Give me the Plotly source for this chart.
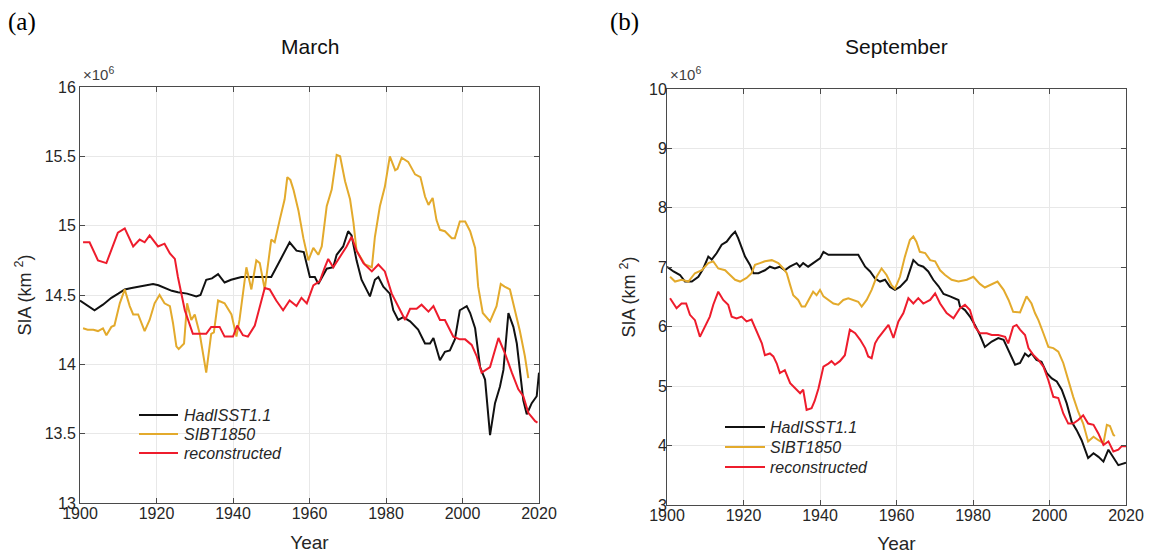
import plotly.graph_objects as go

# ---------------- data (SIA, units of 10^6 km^2) ----------------
mar_had_years = [1900, 1901.5, 1903.8, 1906, 1908.2, 1910, 1911.7, 1913.5, 1915.2, 1917, 1919.1, 1920.5,
                 1922.1, 1924, 1925.6, 1928, 1930.4, 1931.5, 1933, 1934.5, 1936.1, 1937.8, 1939.5, 1942.2,
                 1946, 1950, 1952.5, 1954.8, 1956.6, 1958.5, 1960.1, 1961.4, 1962.3, 1964.5, 1966.2, 1967.1,
                 1968.8, 1970.1, 1971, 1972.3, 1973.6, 1975.8, 1977.1, 1978, 1979.3, 1981, 1981.9, 1983.2,
                 1984.5, 1986.3, 1988.4, 1990.2, 1991.5, 1992.4, 1994.1, 1995.4, 1996.7, 1998, 1999.3, 2001.1,
                 2002, 2003.3, 2004.6, 2005.9, 2007.2, 2008.5, 2009.8, 2010.7, 2012, 2013.3, 2014.2, 2015.9,
                 2016.8, 2018.1, 2019.4, 2020]
mar_had = [14.46, 14.43, 14.39, 14.43, 14.48, 14.51, 14.54, 14.55, 14.56, 14.57, 14.58, 14.57,
           14.55, 14.53, 14.52, 14.51, 14.49, 14.50, 14.61, 14.62, 14.65, 14.59, 14.61, 14.63,
           14.63, 14.63, 14.76, 14.88, 14.82, 14.81, 14.63, 14.63, 14.58, 14.69, 14.70, 14.79,
           14.85, 14.96, 14.93, 14.75, 14.61, 14.49, 14.61, 14.63, 14.56, 14.51, 14.39, 14.32,
           14.34, 14.31, 14.25, 14.15, 14.15, 14.19, 14.03, 14.09, 14.10, 14.18, 14.39, 14.42,
           14.37, 14.26, 13.98, 13.89, 13.49, 13.72, 13.84, 13.96, 14.37, 14.27, 14.15, 13.74,
           13.64, 13.72, 13.77, 13.94]

mar_sibt_years = [1900.8, 1902, 1903.5, 1904.7, 1906, 1906.9, 1908.2, 1909, 1910.4, 1911.7, 1913, 1913.9,
                  1915.2, 1916.9, 1918.2, 1919.5, 1920.8, 1922.1, 1923.5, 1924.3, 1925.2, 1925.8, 1927.2,
                  1928, 1929.1, 1930, 1931.3, 1933, 1934.3, 1935, 1936.1, 1937.8, 1939.6, 1940.9, 1941.7,
                  1942.6, 1943.5, 1944.8, 1946.1, 1947, 1948.3, 1950, 1950.9, 1952.2, 1953.5, 1954.2, 1955,
                  1955.8, 1957.1, 1958.4, 1959.7, 1961, 1962.3, 1963.2, 1964.5, 1965.8, 1967.1, 1968,
                  1969.3, 1970.6, 1971.5, 1972.3, 1974.5, 1976.3, 1977.1, 1978.4, 1979.7, 1981, 1982.4,
                  1983, 1984.1, 1985.8, 1987.6, 1989, 1990.2, 1991.1, 1992.2, 1993.2, 1994.1, 1995.4,
                  1997.2, 1998, 1999.3, 2000.7, 2002, 2003.3, 2004.1, 2005.3, 2007.2, 2008.9, 2010, 2011,
                  2012.4, 2013.7, 2015, 2016.3, 2017.2]
mar_sibt = [14.26, 14.25, 14.25, 14.24, 14.26, 14.21, 14.27, 14.28, 14.44, 14.54, 14.42, 14.36,
            14.36, 14.24, 14.32, 14.44, 14.50, 14.44, 14.42, 14.30, 14.13, 14.11, 14.15,
            14.44, 14.32, 14.36, 14.22, 13.94, 14.22, 14.23, 14.46, 14.44, 14.36, 14.20, 14.32,
            14.51, 14.70, 14.54, 14.75, 14.73, 14.54, 14.90, 14.88, 15.04, 15.19, 15.35, 15.33,
            15.26, 15.11, 14.91, 14.75, 14.84, 14.79, 14.85, 15.14, 15.26, 15.51, 15.50,
            15.32, 15.19, 15.02, 14.82, 14.72, 14.70, 14.92, 15.14, 15.28, 15.50, 15.40,
            15.41, 15.49, 15.46, 15.37, 15.35, 15.21, 15.15, 15.20, 15.04, 14.97, 14.96,
            14.91, 14.91, 15.03, 15.03, 14.96, 14.84, 14.56, 14.37, 14.31, 14.42, 14.58, 14.56,
            14.54, 14.39, 14.24, 14.06, 13.90]

mar_rec_years = [1900.8, 1902.5, 1904.7, 1906.9, 1909.9, 1911.7, 1913.9, 1915.6, 1916.9, 1918.2, 1920.4,
                 1922.1, 1923.5, 1924.8, 1925.6, 1927.4, 1929.5, 1933, 1934.3, 1936.5, 1937.8, 1940,
                 1941.1, 1942.6, 1943.9, 1945.7, 1948.3, 1949.6, 1951.3, 1953.1, 1954.8, 1956.6, 1957.9,
                 1959.3, 1961, 1962.7, 1964, 1964.9, 1966.2, 1968, 1969.7, 1971, 1972.3, 1974.1, 1976.3,
                 1978, 1979.7, 1981.5, 1983.2, 1985, 1986.3, 1988, 1989.3, 1991.1, 1992.4, 1994.1,
                 1995.4, 1997.6, 1999.3, 2000.7, 2002.4, 2003.7, 2005, 2007.2, 2009.4, 2011.1, 2012.9,
                 2014.6, 2015.9, 2017.2, 2019, 2019.6]
mar_rec = [14.88, 14.88, 14.75, 14.73, 14.95, 14.98, 14.85, 14.90, 14.88, 14.93, 14.85,
           14.87, 14.80, 14.76, 14.63, 14.39, 14.22, 14.22, 14.27, 14.27, 14.20, 14.20,
           14.28, 14.21, 14.20, 14.28, 14.55, 14.54, 14.46, 14.39, 14.46, 14.42, 14.48,
           14.44, 14.57, 14.60, 14.70, 14.76, 14.70, 14.78, 14.85, 14.92, 14.82, 14.73, 14.67,
           14.72, 14.67, 14.51, 14.42, 14.32, 14.40, 14.40, 14.43, 14.38, 14.42, 14.32,
           14.32, 14.20, 14.18, 14.18, 14.14, 14.06, 13.94, 13.98, 14.19, 14.08, 13.94,
           13.82, 13.77, 13.65, 13.59, 13.58]

sep_had_years = [1900, 1901.7, 1903.4, 1904.7, 1906.5, 1908.2, 1909.5, 1910.8, 1911.7, 1913, 1914.3, 1915.6,
                 1916.9, 1917.8, 1918.6, 1920.4, 1921.7, 1922.6, 1923.9, 1925.6, 1926.9, 1928.2, 1929.5,
                 1930.8, 1932.1, 1933.9, 1934.7, 1935.6, 1936.9, 1938.2, 1940, 1940.9, 1942.2, 1944, 1950,
                 1951.8, 1953.1, 1954.4, 1955.7, 1957, 1958.3, 1959.6, 1960.9, 1962.7, 1964.4, 1965.7, 1967,
                 1968.3, 1969.6, 1971, 1972.3, 1974, 1976.2, 1976.6, 1977.9, 1979.2, 1980.5, 1981.8,
                 1983.1, 1984.9, 1986.6, 1988, 1989.3, 1991, 1992.3, 1993.6, 1994.5, 1995.3, 1996.6,
                 1997.9, 1999.3, 2000.6, 2001.9, 2003.2, 2004.5, 2005.8, 2007.1, 2008.4, 2010.1, 2011.5,
                 2012.8, 2014.1, 2015.4, 2016.7, 2018, 2020]
sep_had = [7.01, 6.93, 6.87, 6.76, 6.76, 6.84, 6.98, 7.18, 7.13, 7.24, 7.38, 7.43,
           7.54, 7.60, 7.49, 7.18, 7.04, 6.90, 6.90, 6.95, 7.01, 6.98, 7.01,
           6.95, 7.01, 7.07, 7.01, 7.07, 7.01, 7.07, 7.15, 7.26, 7.21, 7.21, 7.21,
           7.01, 6.93, 6.81, 6.76, 6.79, 6.67, 6.62, 6.67, 6.79, 7.12, 7.04, 7.01,
           6.93, 6.79, 6.68, 6.55, 6.51, 6.45, 6.34, 6.28, 6.17, 6.03, 5.86,
           5.66, 5.75, 5.81, 5.78, 5.61, 5.36, 5.39, 5.55, 5.50, 5.55, 5.44,
           5.41, 5.22, 5.13, 5.08, 4.94, 4.71, 4.40, 4.26, 4.09, 3.79, 3.87,
           3.81, 3.73, 3.93, 3.81, 3.67, 3.71]

sep_sibt_years = [1900.8, 1902.1, 1903.8, 1905.6, 1907.3, 1909.1, 1910.8, 1912.1, 1913.4, 1915.2, 1916,
                  1917.8, 1919.1, 1920.8, 1922.1, 1923, 1924.3, 1925.6, 1927.4, 1929.1, 1930.4, 1931.3,
                  1932.2, 1933, 1934.3, 1935.2, 1936.1, 1937.4, 1938.2, 1939.1, 1940, 1940.9, 1942.2,
                  1943.5, 1944.8, 1946.1, 1947.4, 1948.7, 1950, 1950.9, 1952.2, 1953.5, 1954.8, 1956.1,
                  1957.4, 1958.7, 1959.6, 1960.9, 1962.2, 1963.5, 1964.4, 1965.2, 1966.1, 1967.5, 1968.8,
                  1970.1, 1971.4, 1972.7, 1974.4, 1976.2, 1978.4, 1980.1, 1981.8, 1983.1, 1984.9, 1986.4,
                  1988, 1989.3, 1990.5, 1992.3, 1994, 1995.3, 1996.2, 1997.1, 1998.4, 1999.7, 2001,
                  2002.3, 2003.6, 2004.9, 2006.2, 2007.5, 2008.8, 2010.1, 2011.5, 2012.8, 2014.1, 2015,
                  2015.8, 2016.7, 2017.1]
sep_sibt = [6.84, 6.76, 6.79, 6.76, 6.90, 6.95, 7.07, 7.10, 6.98, 6.95, 6.90,
            6.79, 6.76, 6.82, 6.90, 7.04, 7.07, 7.10, 7.12, 7.07, 6.98, 6.90,
            6.70, 6.53, 6.45, 6.34, 6.34, 6.51, 6.59, 6.53, 6.62, 6.51, 6.45,
            6.39, 6.37, 6.45, 6.48, 6.45, 6.42, 6.34, 6.45, 6.62, 6.84, 6.98,
            6.87, 6.70, 6.64, 6.84, 7.18, 7.46, 7.52, 7.43, 7.26, 7.24, 7.12,
            7.10, 6.95, 6.87, 6.79, 6.76, 6.79, 6.84, 6.72, 6.66, 6.72, 6.76,
            6.62, 6.45, 6.25, 6.24, 6.51, 6.39, 6.23, 6.11, 5.89, 5.66, 5.64,
            5.58, 5.39, 5.10, 4.82, 4.57, 4.37, 4.07, 4.15, 4.09, 4.04, 4.35,
            4.33, 4.18, 4.16]

sep_rec_years = [1900.8, 1902.5, 1903.8, 1905, 1906, 1907.3, 1908.6, 1909.9, 1911.2, 1912.1, 1913.4, 1914.7,
                 1916, 1916.9, 1918.2, 1919.5, 1920.8, 1922.1, 1923.4, 1924.8, 1925.6, 1926.9, 1927.8,
                 1928.7, 1929.5, 1930.8, 1932.2, 1933.5, 1934.8, 1935.6, 1936.5, 1937.8, 1938.6, 1939.6,
                 1940.9, 1942.2, 1943, 1943.9, 1945.2, 1946.5, 1947.8, 1949.2, 1950.5, 1951.8, 1952.6,
                 1953.5, 1954.4, 1955.2, 1956.6, 1957.9, 1959.2, 1960.5, 1961.8, 1963.1, 1964.4, 1965.7,
                 1967, 1968.8, 1970.1, 1971.4, 1973.1, 1974.9, 1976.6, 1977.9, 1979.2, 1980.5, 1981.8,
                 1983.6, 1984.9, 1986.6, 1988.4, 1989.2, 1990.5, 1991.4, 1992.3, 1993.6, 1994.5, 1995.7,
                 1997.1, 1998.4, 1999.7, 2001, 2002.3, 2003.6, 2004.9, 2006.2, 2007.5, 2008.8, 2010.1,
                 2011.5, 2012.8, 2014.1, 2015.4, 2016.7, 2018, 2018.9, 2020]
sep_rec = [6.48, 6.31, 6.39, 6.39, 6.20, 6.11, 5.83, 6.00, 6.17, 6.37, 6.59, 6.45,
           6.37, 6.17, 6.14, 6.17, 6.09, 6.12, 5.92, 5.72, 5.52, 5.55, 5.50,
           5.38, 5.22, 5.27, 5.05, 4.96, 4.88, 4.94, 4.60, 4.63, 4.75, 4.96,
           5.33, 5.38, 5.42, 5.36, 5.42, 5.52, 5.95, 5.89, 5.78, 5.64, 5.50,
           5.47, 5.72, 5.81, 5.92, 6.03, 5.81, 6.09, 6.23, 6.48, 6.39, 6.48,
           6.39, 6.45, 6.56, 6.39, 6.23, 6.14, 6.31, 6.37, 6.28, 6.00, 5.89,
           5.89, 5.86, 5.86, 5.83, 5.72, 6.00, 6.03, 5.95, 5.86, 5.64, 5.53,
           5.44, 5.33, 5.10, 4.82, 4.80, 4.54, 4.37, 4.37, 4.43, 4.51, 4.37,
           4.35, 4.20, 4.01, 4.07, 3.90, 3.93, 3.99, 3.99]

series_names = ["HadISST1.1", "SIBT1850", "reconstructed"]
series_colors = ["#111111", "#E3AA2C", "#EE1C2C"]
panel_titles = ["March", "September"]
panel_tags = ["(a)", "(b)"]
x_ticks = [1900, 1920, 1940, 1960, 1980, 2000, 2020]
mar_y_ticks = [13, 13.5, 14, 14.5, 15, 15.5, 16]
sep_y_ticks = [3, 4, 5, 6, 7, 8, 9, 10]

# ---------------- figure ----------------
# The page body keeps the browser's default 8px margin, so the figure is drawn
# 8px smaller and all target pixel positions are shifted by that offset.
OFF = 8
WIN_W, WIN_H = 1153, 554
W, H = WIN_W - OFF, WIN_H - OFF
fig = go.Figure()

axis_color = "#4a4a4a"
grid_color = "#e8e8e8"
FONT = "Liberation Sans, Arial"
tick_font = dict(family=FONT, size=16, color="#262626")

def px_x(p):
    return (p - OFF) / W

def px_y(p):
    return 1 - (p - OFF) / H

panels = [
    (["x", "y"], [(mar_had_years, mar_had), (mar_sibt_years, mar_sibt), (mar_rec_years, mar_rec)]),
    (["x2", "y2"], [(sep_had_years, sep_had), (sep_sibt_years, sep_sibt), (sep_rec_years, sep_rec)]),
]
for (xa, ya), data in panels:
    for (xs, ys), name, col in zip(data, series_names, series_colors):
        fig.add_trace(go.Scatter(
            x=xs, y=ys, mode="lines", name=name, showlegend=False,
            line=dict(color=col, width=2), xaxis=xa, yaxis=ya,
        ))

common_x = dict(range=[1900, 2020], tickvals=x_ticks, ticks="inside", ticklen=5,
                tickcolor=axis_color, showline=True, linecolor=axis_color, linewidth=1,
                mirror="ticks", showgrid=True, gridcolor=grid_color, gridwidth=1,
                zeroline=False, tickfont=tick_font, automargin=False, ticklabelstandoff=-4,
                title=dict(text="Year", font=dict(family=FONT, size=19, color="#262626"),
                           standoff=14))
common_y = dict(ticks="inside", ticklen=5, tickcolor=axis_color, showline=True,
                linecolor=axis_color, linewidth=1, mirror="ticks", showgrid=True,
                gridcolor=grid_color, gridwidth=1, zeroline=False, tickfont=tick_font,
                automargin=False,
                title=dict(text="SIA (km <sup>2</sup>)",
                           font=dict(family=FONT, size=18, color="#262626"),
                           standoff=8))

fig.update_layout(
    width=W, height=H, autosize=False,
    margin=dict(l=0, r=0, t=0, b=0, autoexpand=False),
    paper_bgcolor="white", plot_bgcolor="white",
    showlegend=False,
    xaxis=dict(domain=[px_x(80), px_x(539)], anchor="y", **common_x),
    yaxis=dict(domain=[px_y(503), px_y(87)], anchor="x", range=[13, 16], tickvals=mar_y_ticks,
               ticktext=[("%g" % v) for v in mar_y_ticks], **common_y),
    xaxis2=dict(domain=[px_x(667), px_x(1126)], anchor="y2", **common_x),
    yaxis2=dict(domain=[px_y(505), px_y(89)], anchor="x2", range=[3, 10], tickvals=sep_y_ticks,
                ticklabelstandoff=-4, **common_y),
)

annotations = []
shapes = []
for tag, title, (xl, xr), tagx in zip(panel_tags, panel_titles, [(80, 539), (667, 1126)], [6, 608]):
    annotations.append(dict(text=title, x=px_x((xl + xr) / 2), y=px_y(47), xref="paper", yref="paper",
                            xanchor="center", yanchor="middle", showarrow=False,
                            font=dict(family=FONT, size=21, color="#111111")))
    annotations.append(dict(text=tag, x=px_x(tagx), y=px_y(22), xref="paper", yref="paper",
                            xanchor="left", yanchor="middle", showarrow=False,
                            font=dict(family="Liberation Serif, Times New Roman", size=25, color="#000000")))
    annotations.append(dict(text="×10<sup>6</sup>", x=px_x(xl + 1), y=px_y(73), xref="paper", yref="paper",
                            xanchor="left", yanchor="middle", showarrow=False,
                            font=dict(family=FONT, size=15, color="#404040")))

# legend (drawn as key lines + italic labels, MATLAB style)
legend_specs = [((139, 178), 182, [415, 434, 453]), ((725, 765), 768, [427, 447, 467])]
for (lx0, lx1), tx, ys in legend_specs:
    for name, col, yy in zip(series_names, series_colors, ys):
        shapes.append(dict(type="line", xref="paper", yref="paper", x0=px_x(lx0), x1=px_x(lx1),
                           y0=px_y(yy), y1=px_y(yy), line=dict(color=col, width=2)))
        annotations.append(dict(text="<i>" + name + "</i>", x=px_x(tx), y=px_y(yy), xref="paper",
                                yref="paper", xanchor="left", yanchor="middle", showarrow=False,
                                font=dict(family=FONT, size=16, color="#262626")))

fig.update_layout(annotations=annotations, shapes=shapes)

fig.write_html("out.html")
